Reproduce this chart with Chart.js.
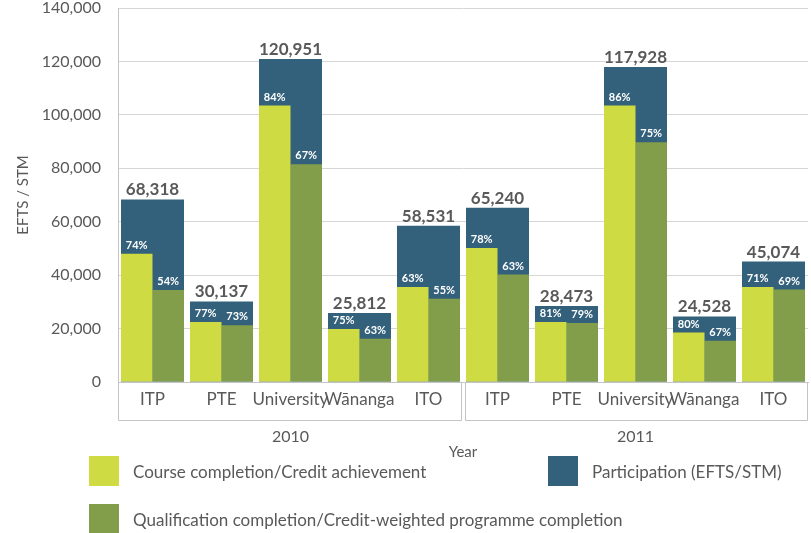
<!DOCTYPE html>
<html>
<head>
<meta charset="utf-8">
<title>Participation and completion by sub-sector</title>
<script src="https://cdn.jsdelivr.net/npm/chart.js@4.4.1/dist/chart.umd.min.js"></script>
<style>
    body { margin: 0; background: #fff; }
    #wrap { position: relative; width: 811px; height: 533px; }
    .legend-item { position: absolute; display: flex; align-items: center; font: 17px Lato, sans-serif; color: #595959; white-space: nowrap; }
    .legend-item .box { width: 30px; height: 30px; margin-right: 14px; }
</style>
</head>
<body>
<div id="wrap">
    <canvas id="chart"></canvas>
    <div id="legend"></div>
</div>
<script>
"use strict";
const categories = ["ITP", "PTE", "University", "Wānanga", "ITO", "ITP", "PTE", "University", "Wānanga", "ITO"];
const years = ["2010", "2011"];
const participation = [68318, 30137, 120951, 25812, 58531, 65240, 28473, 117928, 24528, 45074];
const courseCompletion = [48000, 22500, 103500, 19800, 35600, 50200, 22500, 103500, 18500, 35600];
const qualCompletion = [34400, 21200, 81500, 16200, 31200, 40200, 22100, 89700, 15400, 34600];
const coursePct = [74, 77, 84, 75, 63, 78, 81, 86, 80, 71];
const qualPct = [54, 73, 67, 63, 55, 63, 79, 75, 67, 69];
const yTicks = [0, 20000, 40000, 60000, 80000, 100000, 120000, 140000];

const TEXT = "#595959";
const LINE = "#c4c4c4";

Chart.defaults.font.family = "Lato, 'Open Sans', sans-serif";
Chart.defaults.color = TEXT;

// value above each participation bar, percentages above each completion bar
const barLabels = {
    id: "barLabels",
    afterDatasetsDraw(chart) {
        const ctx = chart.ctx;
        ctx.save();
        ctx.textAlign = "center";
        ctx.textBaseline = "alphabetic";
        ctx.fillStyle = TEXT;
        ctx.font = "bold 17px Lato, sans-serif";
        chart.getDatasetMeta(2).data.forEach((bar, i) => {
            ctx.fillText(participation[i].toLocaleString("en-US"), bar.x, bar.y - 4);
        });
        ctx.fillStyle = "#ffffff";
        ctx.font = "bold 11px 'Liberation Sans Narrow', Lato, sans-serif";
        [coursePct, qualPct].forEach((pcts, d) => {
            chart.getDatasetMeta(d).data.forEach((bar, i) => {
                ctx.fillText(pcts[i] + "%", bar.x, bar.y - 5);
            });
        });
        ctx.restore();
    }
};

// boxes around the two year groups of the category axis
const yearBoxes = {
    id: "yearBoxes",
    afterDraw(chart) {
        const { ctx, chartArea } = chart;
        const xs = chart.scales.x;
        const mid = Math.round((xs.getPixelForValue(4) + xs.getPixelForValue(5)) / 2);
        const top = Math.round(chartArea.bottom);
        const bottom = top + 38.5;
        const left = Math.round(chartArea.left) + 0.5;
        const right = Math.round(chartArea.right) - 0.5;
        ctx.save();
        ctx.strokeStyle = LINE;
        ctx.lineWidth = 1;
        ctx.beginPath();
        ctx.moveTo(left, top);
        ctx.lineTo(left, bottom);
        ctx.lineTo(mid - 1.5, bottom);
        ctx.lineTo(mid - 1.5, top);
        ctx.moveTo(mid + 2.5, top);
        ctx.lineTo(mid + 2.5, bottom);
        ctx.lineTo(right, bottom);
        ctx.lineTo(right, top);
        ctx.stroke();
        ctx.restore();
    }
};

const chart = new Chart(document.getElementById("chart"), {
    type: "bar",
    data: {
        labels: categories,
        datasets: [
            {
                label: "Course completion/Credit achievement",
                data: courseCompletion,
                backgroundColor: "#cfdb42",
                order: 1,
                categoryPercentage: 0.913,
                barPercentage: 1,
            },
            {
                label: "Qualification completion/Credit-weighted programme completion",
                data: qualCompletion,
                backgroundColor: "#839e4a",
                order: 1,
                categoryPercentage: 0.913,
                barPercentage: 1,
            },
            {
                label: "Participation (EFTS/STM)",
                data: participation,
                backgroundColor: "#33617b",
                order: 2,
                grouped: false,
                categoryPercentage: 1,
                barPercentage: 0.913,
            },
        ],
    },
    options: {
        responsive: true,
        maintainAspectRatio: false,
        animation: false,
        layout: { padding: { left: 0, right: 3, top: 0, bottom: 71 } },
        plugins: {
            legend: { display: false },
            tooltip: { enabled: false },
        },
        scales: {
            y: {
                min: 0,
                max: 140000,
                afterBuildTicks: (scale) => { scale.ticks = yTicks.map((v) => ({ value: v })); },
                afterFit: (scale) => {
                    scale.width = 118;
                    scale.paddingTop = 8;
                },
                ticks: {
                    padding: 17,
                    font: { size: 16 },
                    callback: (v) => Number(v).toLocaleString("en-US"),
                },
                grid: { color: "#d6d6d6", drawTicks: false },
                border: { color: LINE },
                title: { display: true, text: "EFTS / STM", font: { size: 15 }, padding: { top: 14, bottom: 0 } },
            },
            x: {
                weight: 0,
                offset: true,
                afterFit: (scale) => { scale.height = 40; },
                grid: { display: false, drawTicks: false },
                border: { color: LINE },
                ticks: { padding: 7, font: { size: 17 }, maxRotation: 0, autoSkip: false },
            },
            xYear: {
                type: "category",
                position: "bottom",
                weight: 1,
                labels: years,
                offset: true,
                afterFit: (scale) => { scale.height = 40; },
                grid: { display: false, drawTicks: false },
                border: { display: false },
                ticks: { padding: 5, font: { size: 16 } },
                title: { display: true, text: "Year", font: { size: 15 }, padding: { top: 0, bottom: 1 } },
            },
        },
    },
    plugins: [barLabels, yearBoxes],
});

// legend laid out like the original: two items on the first row, one below
const legendSpots = [
    { dataset: 0, left: 89, top: 456 },
    { dataset: 2, left: 548, top: 456 },
    { dataset: 1, left: 89, top: 504 },
];
const legend = document.getElementById("legend");
legendSpots.forEach((spot) => {
    const ds = chart.data.datasets[spot.dataset];
    const div = document.createElement("div");
    div.className = "legend-item";
    div.style.left = spot.left + "px";
    div.style.top = spot.top + "px";
    div.innerHTML = `<span class="box" style="background:${ds.backgroundColor}"></span><span>${ds.label}</span>`;
    legend.appendChild(div);
});
</script>
</body>
</html>
